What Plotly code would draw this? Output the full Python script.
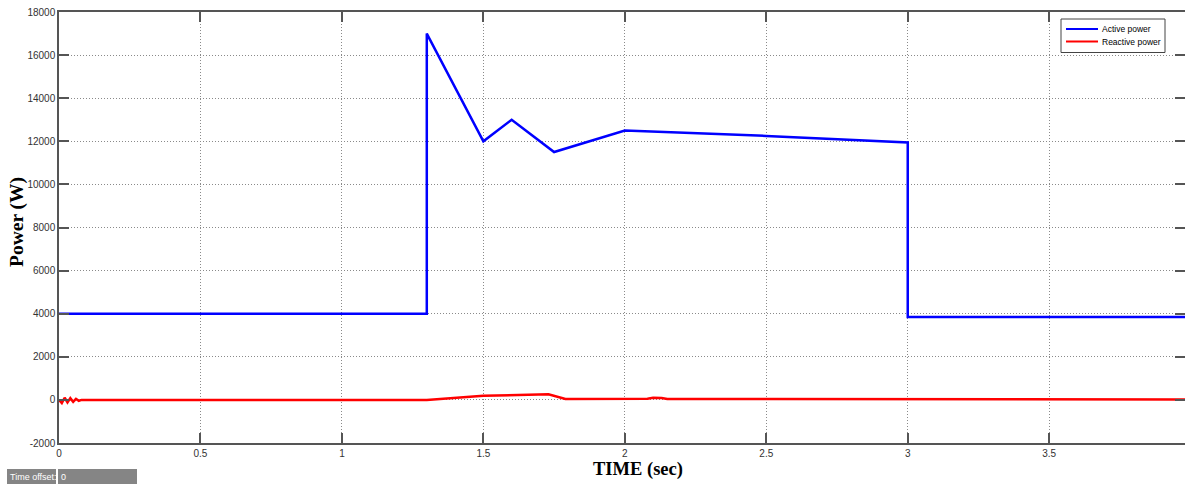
import plotly.graph_objects as go

# ---- data ----
t_active = [0.0, 1.3, 1.3, 1.3, 1.5, 1.6, 1.75, 2.0, 2.5, 3.0, 3.0, 3.0, 3.98]
p_active = [4000, 4000, 10500, 17000, 12000, 13000, 11500, 12500, 12250, 11950, 6000, 3850, 3850]

t_reactive = [0.0, 0.01, 0.02, 0.03, 0.04, 0.05, 0.06, 0.07, 0.08, 1.3, 1.5, 1.73, 1.79,
              2.08, 2.1, 2.13, 2.15, 3.0, 3.0, 3.98]
p_reactive = [0, -150, 100, -120, 80, -90, 50, -40, 0, 0, 190, 260, 40,
              50, 100, 90, 40, 30, 60, 20]

series_names = ["Active power", "Reactive power"]
series_colors = ["#0000ff", "#ff0000"]

x_ticks = [0, 0.5, 1, 1.5, 2, 2.5, 3, 3.5]
x_tick_labels = ["0", "0.5", "1", "1.5", "2", "2.5", "3", "3.5"]
y_ticks = [-2000, 0, 2000, 4000, 6000, 8000, 10000, 12000, 14000, 16000, 18000]
y_tick_labels = [str(v) for v in y_ticks]

W, H = 1185, 484
ML, MR, MT, MB = 59, 0, 12, 41

fig = go.Figure()
fig.add_trace(go.Scatter(x=t_active, y=p_active, mode="lines", name=series_names[0],
                         line=dict(color=series_colors[0], width=2.5)))
fig.add_trace(go.Scatter(x=t_reactive, y=p_reactive, mode="lines", name=series_names[1],
                         line=dict(color=series_colors[1], width=2.5)))

axis_common = dict(
    automargin=False,
    showline=True, linecolor="#555555", linewidth=1.5, mirror="ticks",
    ticks="inside", ticklen=10, tickwidth=1.5, tickcolor="#555555",
    showgrid=True, gridcolor="#8a8a8a", griddash="1px,2px", gridwidth=1,
    zeroline=False, tickfont=dict(family="Liberation Sans Narrow, Liberation Sans, Arial", size=10, color="#333333"),
)

fig.update_xaxes(range=[0, 3.98], tickvals=x_ticks, ticktext=x_tick_labels, **axis_common)
fig.update_yaxes(range=[-2000, 18000], tickvals=y_ticks, ticktext=y_tick_labels, **axis_common)

pw = W - ML - MR
ph = H - MT - MB

def px(x):
    return (x - ML) / pw

def py(y):
    return (H - MB - y) / ph

serif = "Liberation Serif, Times New Roman"
sans = "Liberation Sans, Arial"

annotations = [
    dict(text="<b>TIME (sec)</b>", x=px(638), y=py(469), xref="paper", yref="paper",
         showarrow=False, font=dict(family=serif, size=18.5, color="black"),
         xanchor="center", yanchor="middle"),
    dict(text="<b>Power (W)</b>", x=px(17), y=py(222), xref="paper", yref="paper",
         showarrow=False, textangle=-90, font=dict(family=serif, size=19.5, color="black"),
         xanchor="center", yanchor="middle"),
    dict(text="Time offset:", x=px(8), y=py(477), xref="paper", yref="paper",
         showarrow=False, font=dict(family=sans, size=9, color="white"),
         xanchor="left", yanchor="middle"),
    dict(text="0", x=px(59), y=py(477), xref="paper", yref="paper",
         showarrow=False, font=dict(family=sans, size=9, color="white"),
         xanchor="left", yanchor="middle"),
]

shapes = [
    dict(type="rect", xref="paper", yref="paper", x0=px(7), x1=px(56), y0=py(469), y1=py(484),
         fillcolor="#858585", line=dict(width=0), layer="above"),
    dict(type="rect", xref="paper", yref="paper", x0=px(58), x1=px(137), y0=py(469), y1=py(484),
         fillcolor="#858585", line=dict(width=0), layer="above"),
    # legend box
    dict(type="rect", xref="paper", yref="paper", x0=px(1061), x1=px(1165), y0=py(19), y1=py(52.5),
         fillcolor="white", line=dict(color="#444444", width=1), layer="above"),
]

legend_rows = [29, 41.5]
for name, color, yy in zip(series_names, series_colors, legend_rows):
    shapes.append(dict(type="line", xref="paper", yref="paper", x0=px(1066), x1=px(1098),
                       y0=py(yy), y1=py(yy), line=dict(color=color, width=2), layer="above"))
    annotations.append(dict(text=name, x=px(1100), y=py(yy), xref="paper", yref="paper",
                            showarrow=False, font=dict(family=sans, size=8.5, color="black"),
                            xanchor="left", yanchor="middle"))

fig.update_layout(
    width=W, height=H,
    margin=dict(l=ML, r=MR, t=MT, b=MB, autoexpand=False),
    paper_bgcolor="white", plot_bgcolor="white",
    showlegend=False,
    annotations=annotations,
    shapes=shapes,
)

fig.write_html("out.html", config={"displayModeBar": False},
               post_script="document.body.style.margin='0px';")
